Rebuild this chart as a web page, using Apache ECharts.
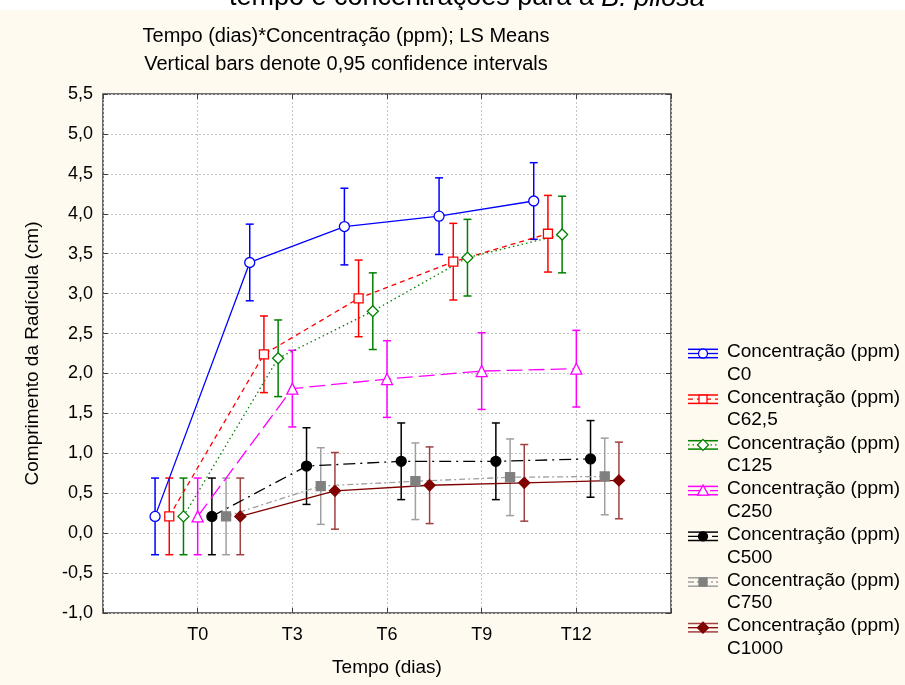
<!DOCTYPE html>
<html>
<head>
<meta charset="utf-8">
<script src="https://cdn.jsdelivr.net/npm/echarts/dist/echarts.min.js"></script>
<style>
html,body{margin:0;padding:0;background:#fffaf0;}
#container{width:905px;height:685px;}
</style>
</head>
<body>
<div id="container"></div>
<script>
// dados (LS means, IC 95%)
var times = ['T0', 'T3', 'T6', 'T9', 'T12'];
var concNames = ['C0', 'C62,5', 'C125', 'C250', 'C500', 'C750', 'C1000'];
var c0 = [0.21, 3.39, 3.84, 3.97, 4.16];
var c62 = [0.21, 2.24, 2.94, 3.40, 3.75];
var c125 = [0.21, 2.19, 2.78, 3.45, 3.74];
var c250 = [0.21, 1.81, 1.93, 2.03, 2.06];
var c500 = [0.21, 0.84, 0.90, 0.90, 0.93];
var c750 = [0.21, 0.59, 0.65, 0.70, 0.71];
var c1000 = [0.21, 0.53, 0.60, 0.63, 0.66];
var ciHalf = [0.48, 0.48, 0.48, 0.48, 0.48];
var yTicks = {min: -1, max: 5.5, step: 0.5};

var means = [c0, c62, c125, c250, c500, c750, c1000];
var font = "'Liberation Sans', Arial, sans-serif";

var styles = [
    {color: '#0000ff', bar: '#0000ff', mark: '#0000ff', fill: '#ffffff', symbol: 'circle', size: 10, dash: 'solid'},
    {color: '#ff0000', bar: '#ff0000', mark: '#ff0000', fill: '#ffffff', symbol: 'rect', size: 9, dash: [5, 4]},
    {color: '#008000', bar: '#008000', mark: '#008000', fill: '#ffffff', symbol: 'diamond', size: 11, dash: [1.5, 3]},
    {color: '#ff00ff', bar: '#ff00ff', mark: '#ff00ff', fill: '#ffffff', symbol: 'triangle', size: 11, dash: [16, 6]},
    {color: '#000000', bar: '#000000', mark: '#000000', fill: '#000000', symbol: 'circle', size: 10, dash: [12, 5, 2, 5]},
    {color: '#a0a0a0', bar: '#a0a0a0', mark: '#808080', fill: '#808080', symbol: 'rect', size: 9, dash: [6, 3, 2, 3]},
    {color: '#800000', bar: '#a04040', mark: '#800000', fill: '#800000', symbol: 'diamond', size: 11, dash: 'solid'}
];

//deslocamento horizontal de cada concentracao
function offset(k){
    return (k - 3) * 0.15;
}

var series = [];
$each = function(arr, fn){ for (var i = 0; i < arr.length; i++) fn(i, arr[i]); };

$each(means, function(k, vals){
    var pts = [], bars = [];
    $each(vals, function(t, v){
        pts.push([t + offset(k), v]);
        bars.push([t + offset(k), v - ciHalf[t], v + ciHalf[t]]);
    });
    var st = styles[k];
    series.push({
        type: 'custom',
        z: 1,
        encode: {x: 0, y: [1, 2]},
        data: bars,
        renderItem: function(params, api){
            var x = api.value(0);
            var top = api.coord([x, api.value(2)]);
            var bot = api.coord([x, api.value(1)]);
            var s = {stroke: st.bar, lineWidth: 1.5};
            return {
                type: 'group',
                children: [
                    {type: 'line', shape: {x1: top[0], y1: top[1], x2: bot[0], y2: bot[1]}, style: s},
                    {type: 'line', shape: {x1: top[0] - 4, y1: top[1], x2: top[0] + 4, y2: top[1]}, style: s},
                    {type: 'line', shape: {x1: bot[0] - 4, y1: bot[1], x2: bot[0] + 4, y2: bot[1]}, style: s}
                ]
            };
        }
    });
    series.push({
        type: 'line',
        name: concNames[k],
        z: 3,
        data: pts,
        symbol: st.symbol,
        symbolSize: st.size,
        showAllSymbol: true,
        lineStyle: {color: st.color, width: 1.3, type: st.dash},
        itemStyle: {color: st.fill, borderColor: st.mark, borderWidth: 1.3},
        emphasis: {disabled: true},
        animation: false
    });
});

//legenda desenhada a mao
var legend = [];
$each(concNames, function(k, name){
    var st = styles[k];
    var y = 352 + k * 45.7;
    var yc = y + 1.5;
    var ls = {stroke: st.bar, lineWidth: 1.5};
    var marker;
    if (st.symbol == 'circle') {
        marker = {type: 'circle', shape: {cx: 703, cy: yc, r: 4.5}};
    } else if (st.symbol == 'rect') {
        marker = {type: 'rect', shape: {x: 699, y: yc - 4, width: 8, height: 8}};
    } else if (st.symbol == 'diamond') {
        marker = {type: 'polygon', shape: {points: [[703, yc - 5.5], [708.5, yc], [703, yc + 5.5], [697.5, yc]]}};
    } else {
        marker = {type: 'polygon', shape: {points: [[703, yc - 5.5], [708.5, yc + 4.5], [697.5, yc + 4.5]]}};
    }
    marker.style = {fill: st.fill, stroke: st.mark, lineWidth: 1.3};
    legend.push({type: 'line', shape: {x1: 688, y1: yc - 4.2, x2: 718, y2: yc - 4.2}, style: ls});
    legend.push({type: 'line', shape: {x1: 688, y1: yc + 4.2, x2: 718, y2: yc + 4.2}, style: ls});
    legend.push({type: 'line', shape: {x1: 703, y1: yc - 4.2, x2: 703, y2: yc + 4.2}, style: ls});
    legend.push({type: 'line', shape: {x1: 688, y1: yc, x2: 718, y2: yc},
        style: {stroke: st.color, lineWidth: 1.3, lineDash: st.dash == 'solid' ? null : st.dash}});
    legend.push(marker);
    legend.push({type: 'text', x: 727, y: y - 11.25, style: {
        text: 'Concentração (ppm)\n' + name, font: '19px ' + font, fill: '#000',
        lineHeight: 22.5, align: 'left', verticalAlign: 'top'}});
});

var myChart = echarts.init(document.getElementById('container'));

var tickStyle = {show: true, inside: true, length: 5, lineStyle: {color: '#404040', width: 1}};
var gridLine = {show: true, lineStyle: {color: '#c4c4c4', type: [2, 2], width: 1}};
var noLine = {show: false, onZero: false};

option = {
    backgroundColor: '#fffaf0',
    animation: false,
    grid: {
        left: 103, right: 234, top: 94, bottom: 72,
        show: true, backgroundColor: '#ffffff', borderColor: '#404040', borderWidth: 1.5
    },
    xAxis: [
        {
            type: 'value', min: -1, max: times.length, interval: 1,
            axisLine: noLine, axisTick: tickStyle, splitLine: gridLine,
            axisLabel: {
                margin: 13, fontSize: 18, color: '#000', fontFamily: font,
                formatter: function(v){ return (v >= 0 && v < times.length) ? times[v] : ''; }
            },
            name: 'Tempo (dias)', nameLocation: 'middle', nameGap: 45,
            nameTextStyle: {fontSize: 19, color: '#000', fontFamily: font}
        },
        {
            type: 'value', position: 'top', min: -1, max: times.length, interval: 1,
            axisLine: noLine, axisTick: tickStyle, splitLine: {show: false}, axisLabel: {show: false}
        }
    ],
    yAxis: [
        {
            type: 'value', min: yTicks.min, max: yTicks.max, interval: yTicks.step,
            axisLine: noLine, axisTick: tickStyle, splitLine: gridLine,
            axisLabel: {
                margin: 10, fontSize: 18, color: '#000', fontFamily: font,
                formatter: function(v){ return v.toFixed(1).replace('.', ','); }
            },
            name: 'Comprimento da Radícula (cm)', nameLocation: 'middle', nameGap: 61,
            nameTextStyle: {fontSize: 19, color: '#000', fontFamily: font}
        },
        {
            type: 'value', position: 'right', min: yTicks.min, max: yTicks.max, interval: yTicks.step,
            axisLine: noLine, axisTick: tickStyle, splitLine: {show: false}, axisLabel: {show: false}
        }
    ],
    graphic: [
        {type: 'rect', z: 0, shape: {x: 0, y: 0, width: 905, height: 10}, style: {fill: '#ffffff'}},
        {type: 'text', z: 1, x: 229, y: -2, style: {
            text: '{n|tempo e concentrações para a }{i|B. pilosa}',
            verticalAlign: 'middle', align: 'left',
            rich: {
                n: {fontSize: 27, fontFamily: font, fill: '#000'},
                i: {fontSize: 27, fontFamily: font, fontStyle: 'italic', fill: '#000'}
            }
        }},
        {type: 'rect', z: 2, shape: {x: 0, y: 10, width: 905, height: 12}, style: {fill: '#fffaf0'}},
        {type: 'text', z: 2, x: 346, y: 36, style: {
            text: 'Tempo (dias)*Concentração (ppm); LS Means', font: '20px ' + font,
            fill: '#000', align: 'center', verticalAlign: 'middle'}},
        {type: 'text', z: 2, x: 346, y: 64, style: {
            text: 'Vertical bars denote 0,95 confidence intervals', font: '20px ' + font,
            fill: '#000', align: 'center', verticalAlign: 'middle'}},
        {type: 'group', z: 2, children: legend}
    ],
    series: series
};

myChart.setOption(option);
</script>
</body>
</html>
